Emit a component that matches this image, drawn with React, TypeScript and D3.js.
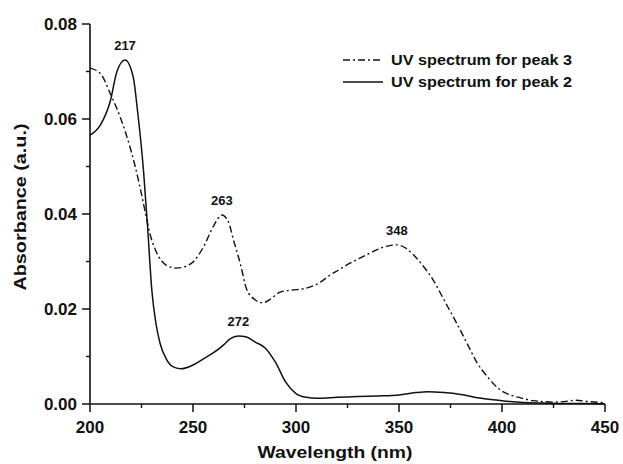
import React from "react";
import * as d3 from "d3";

// UV spectrum for peak 2 (solid)
const peak2Nm = [200, 205, 210, 213, 217, 221, 223, 226, 228, 230, 232, 234, 237, 240, 244, 250, 255, 260, 265, 268, 272, 276, 280, 285, 290, 295, 300, 305, 310, 320, 330, 340, 350, 358, 364, 372, 380, 390, 400, 410, 420, 430, 440, 450];
const peak2Abs = [0.0566, 0.0587, 0.064, 0.0699, 0.0724, 0.0688, 0.062, 0.049, 0.037, 0.024, 0.017, 0.0128, 0.0095, 0.0079, 0.0074, 0.0082, 0.0095, 0.0108, 0.0125, 0.0137, 0.0143, 0.0141, 0.0131, 0.0118, 0.0088, 0.0046, 0.0022, 0.0014, 0.0012, 0.0014, 0.0016, 0.0017, 0.0019, 0.0024, 0.0026, 0.0024, 0.002, 0.0012, 0.0007, 0.0003, 0.0002, 0.0001, 0.0001, 0.0];

// UV spectrum for peak 3 (dash-dot)
const peak3Nm = [200, 205, 210, 215, 220, 224, 227, 229, 232, 235, 238, 242, 246, 250, 255, 260, 264, 267, 270, 273, 276, 280, 284, 288, 292, 298, 303, 308, 312, 316, 321, 326, 331, 336, 341, 345, 349, 353, 357, 362, 367, 372, 378, 383, 388, 393, 399, 404, 409, 415, 420, 425, 430, 436, 442, 450];
const peak3Abs = [0.0707, 0.0696, 0.0652, 0.06, 0.0532, 0.0462, 0.04, 0.036, 0.0322, 0.03, 0.029, 0.0286, 0.0289, 0.0299, 0.033, 0.0375, 0.0398, 0.0385, 0.034, 0.0295, 0.0242, 0.022, 0.0213, 0.0222, 0.0235, 0.024, 0.0242, 0.0248, 0.0257, 0.027, 0.0283, 0.0296, 0.0307, 0.0318, 0.0328, 0.0333, 0.0335, 0.0329, 0.0314, 0.0289, 0.0258, 0.0218, 0.017, 0.0128, 0.0086, 0.0057, 0.003, 0.0019, 0.0013, 0.0007, 0.0005, 0.0004, 0.0005, 0.0008, 0.0005, 0.0003];

const xTicks = [200, 250, 300, 350, 400, 450];
const xMinorTicks = [225, 275, 325, 375, 425];
const yTicks = [0, 0.02, 0.04, 0.06, 0.08];
const yMinorTicks = [0.01, 0.03, 0.05, 0.07];

const peakLabels = [
  { text: "217", nm: 217, abs: 0.0724 },
  { text: "263", nm: 264, abs: 0.0398 },
  { text: "348", nm: 349, abs: 0.0335 },
  { text: "272", nm: 272, abs: 0.0143 },
];

const legendItems = [
  { label: "UV spectrum for peak 3", dash: "7,3,2,3" },
  { label: "UV spectrum for peak 2", dash: null },
];

const font = "'Liberation Sans', Arial, Helvetica, sans-serif";
const ink = "#111";

export default function App() {
  const width = 623;
  const height = 464;
  const x = d3.scaleLinear().domain([200, 450]).range([90, 605]);
  const y = d3.scaleLinear().domain([0, 0.08]).range([404, 24]);
  const fmt = d3.format(".2f");

  const line = d3
    .line<[number, number]>()
    .x(d => x(d[0]))
    .y(d => y(d[1]))
    .curve(d3.curveMonotoneX);

  const p2 = line(peak2Nm.map((n, i) => [n, peak2Abs[i]] as [number, number]));
  const p3 = line(peak3Nm.map((n, i) => [n, peak3Abs[i]] as [number, number]));

  const x0 = x.range()[0];
  const y0 = y.range()[0];

  return (
    <svg width={width} height={height} style={{ position: "absolute", left: 0, top: 0, background: "#fff" }}>
      <g fontFamily={font} fontWeight="bold" fill={ink}>
        {/* curves */}
        <path d={p3 || ""} fill="none" stroke={ink} strokeWidth={1.4} strokeDasharray="7,3,2,3" />
        <path d={p2 || ""} fill="none" stroke={ink} strokeWidth={1.5} />

        {/* axes */}
        <line x1={x0} x2={x0} y1={y(0.08)} y2={y0} stroke={ink} strokeWidth={1.6} />
        <line x1={x0} x2={x(450)} y1={y0} y2={y0} stroke={ink} strokeWidth={1.6} />
        {yTicks.map(t => (
          <g key={"y" + t}>
            <line x1={x0 - 8} x2={x0} y1={y(t)} y2={y(t)} stroke={ink} strokeWidth={1.5} />
            <text x={x0 - 13} y={y(t)} dy="0.36em" textAnchor="end" fontSize={17}>
              {fmt(t)}
            </text>
          </g>
        ))}
        {yMinorTicks.map(t => (
          <line key={"ym" + t} x1={x0 - 4} x2={x0} y1={y(t)} y2={y(t)} stroke={ink} strokeWidth={1.4} />
        ))}
        {xTicks.map(t => (
          <g key={"x" + t}>
            <line x1={x(t)} x2={x(t)} y1={y0} y2={y0 + 8} stroke={ink} strokeWidth={1.5} />
            <text x={x(t)} y={433} textAnchor="middle" fontSize={17}>
              {t}
            </text>
          </g>
        ))}
        {xMinorTicks.map(t => (
          <line key={"xm" + t} x1={x(t)} x2={x(t)} y1={y0} y2={y0 + 4} stroke={ink} strokeWidth={1.4} />
        ))}

        {/* axis titles */}
        <text x={335} y={458} textAnchor="middle" fontSize={17} textLength={155} lengthAdjust="spacingAndGlyphs">
          Wavelength (nm)
        </text>
        <text
          transform="translate(26 207) rotate(-90)"
          textAnchor="middle"
          fontSize={17}
          textLength={167}
          lengthAdjust="spacingAndGlyphs"
        >
          Absorbance (a.u.)
        </text>

        {/* peak labels */}
        {peakLabels.map(p => (
          <text key={p.text} x={x(p.nm)} y={y(p.abs) - 10} textAnchor="middle" fontSize={13}>
            {p.text}
          </text>
        ))}

        {/* legend */}
        {legendItems.map((item, i) => (
          <g key={item.label} transform={`translate(343 ${60 + i * 22})`}>
            <line x1={0} x2={40} y1={0} y2={0} stroke={ink} strokeWidth={1.5} strokeDasharray={item.dash || undefined} />
            <text x={48} y={0} dy="0.36em" fontSize={15} textLength={181} lengthAdjust="spacingAndGlyphs">
              {item.label}
            </text>
          </g>
        ))}
      </g>
    </svg>
  );
}
